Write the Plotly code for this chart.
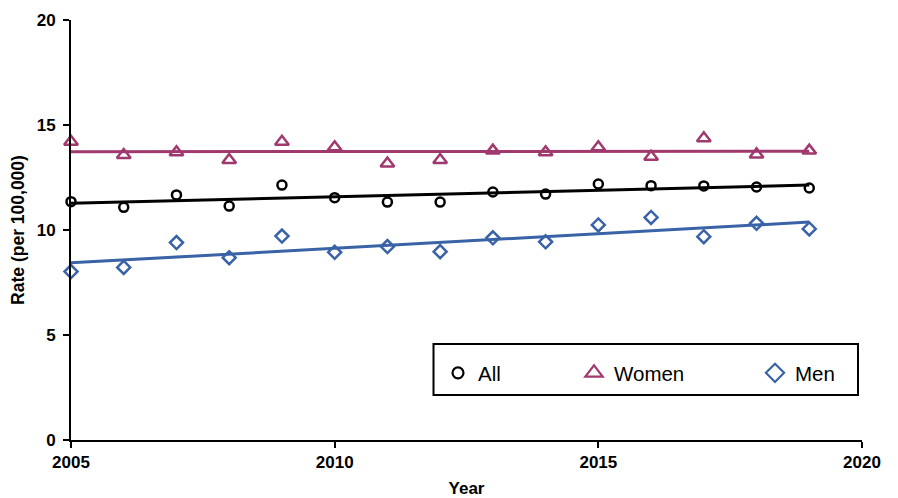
import numpy as np
import plotly.graph_objects as go

years = list(range(2005, 2020))
all_rate = [11.35, 11.08, 11.67, 11.14, 12.14, 11.54, 11.33, 11.33, 11.81, 11.71, 12.19, 12.11, 12.10, 12.05, 12.00]
women_rate = [14.20, 13.57, 13.70, 13.33, 14.20, 13.94, 13.17, 13.33, 13.78, 13.70, 13.94, 13.49, 14.37, 13.60, 13.78]
men_rate = [8.02, 8.22, 9.40, 8.68, 9.71, 8.94, 9.21, 8.97, 9.63, 9.44, 10.24, 10.60, 9.68, 10.32, 10.05]
series_names = ["All", "Women", "Men"]
x_ticks = [2005, 2010, 2015, 2020]
y_ticks = [0, 5, 10, 15, 20]

BLACK = "#000000"
WOMEN = "#A0396E"
MEN = "#3A62A7"

series = [
    (series_names[0], all_rate, BLACK, "circle-open", 9, 11, "legend"),
    (series_names[1], women_rate, WOMEN, "triangle-up-open", 12, 15, "legend2"),
    (series_names[2], men_rate, MEN, "diamond-open", 10, 14, "legend3"),
]

fig = go.Figure()
x_arr = np.array(years, dtype=float)
for name, vals, col, sym, msize, lsize, leg in series:
    coef = np.polyfit(x_arr, np.array(vals), 1)
    fit = np.polyval(coef, x_arr)
    fig.add_trace(go.Scatter(x=years, y=fit, mode="lines", line=dict(color=col, width=3),
                             showlegend=False, hoverinfo="skip"))
for name, vals, col, sym, msize, lsize, leg in series:
    fig.add_trace(go.Scatter(x=years, y=vals, mode="markers", name=name, showlegend=False,
                             marker=dict(symbol=sym, size=msize, color=col, line=dict(color=col, width=2.5)),
                             cliponaxis=False))
    # legend entry (no data points)
    fig.add_trace(go.Scatter(x=[None], y=[None], mode="markers", name=name, legend=leg,
                             marker=dict(symbol=sym, size=lsize, color=col, line=dict(color=col, width=2.2))))

W, H = 898, 498
L, R, T, B = 71, 36, 20, 58
pw, ph = W - L - R, H - T - B

def px_x(p):
    return (p - L) / pw

def px_y(p):
    return (H - B - p) / ph

legfont = dict(family="Liberation Sans, Arial, sans-serif", size=20.5, color="#000000")
leg_common = dict(orientation="h", xanchor="left", yanchor="middle", bgcolor="rgba(0,0,0,0)",
                  borderwidth=0, font=legfont, itemclick=False, itemdoubleclick=False)

fig.update_layout(
    width=W, height=H,
    margin=dict(l=L, r=R, t=T, b=B, autoexpand=False),
    paper_bgcolor="white", plot_bgcolor="white",
    font=dict(family="Liberation Sans, Arial, sans-serif", color="#000000"),
    legend=dict(x=px_x(438), y=px_y(373), **leg_common),
    legend2=dict(x=px_x(574), y=px_y(373), **leg_common),
    legend3=dict(x=px_x(755), y=px_y(373), **leg_common),
    shapes=[dict(type="rect", xref="paper", yref="paper",
                 x0=px_x(433.5), x1=px_x(858), y0=px_y(395), y1=px_y(344),
                 line=dict(color="#000000", width=2), fillcolor="rgba(0,0,0,0)", layer="below")],
    xaxis=dict(range=[2005, 2020], tickvals=x_ticks, ticktext=[str(v) for v in x_ticks],
               showgrid=False, zeroline=False, showline=True, linecolor="#000000", linewidth=2,
               ticks="outside", ticklen=6, tickwidth=1.5, tickcolor="#000000",
               tickfont=dict(size=17, weight="bold"),
               title=dict(text="Year", font=dict(size=17, weight="bold"), standoff=12),
               automargin=False, fixedrange=True),
    yaxis=dict(range=[0, 20], tickvals=y_ticks, ticktext=[str(v) for v in y_ticks],
               showgrid=False, zeroline=False, showline=True, linecolor="#000000", linewidth=2,
               ticks="outside", ticklen=6, tickwidth=1.5, tickcolor="#000000",
               tickfont=dict(size=17, weight="bold"), ticklabelstandoff=4,
               title=dict(text="Rate (per 100,000)", font=dict(size=17.5, weight="bold"), standoff=8),
               automargin=False, fixedrange=True),
)

fig.write_html("out.html", config={"displayModeBar": False},
               post_script="document.body.style.margin='0';document.body.style.padding='0';")
